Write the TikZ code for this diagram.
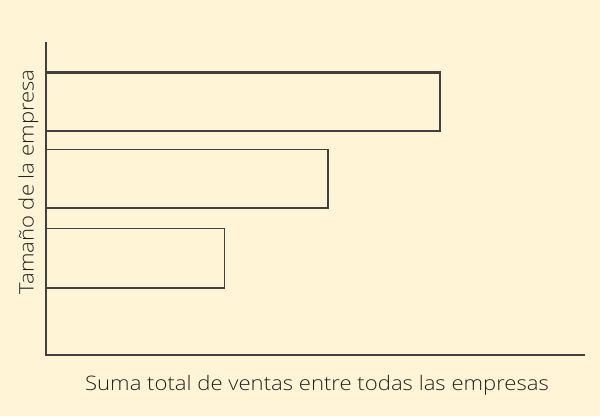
\documentclass[tikz,border=0pt]{standalone}
\usepackage{fontspec}
\setmainfont{Open Sans Light}[FakeStretch=1.105]
\definecolor{bg}{HTML}{FFF5D6}
\definecolor{ink}{HTML}{404040}
\definecolor{txt}{HTML}{222222}
\begin{document}
\begin{tikzpicture}[x=1pt,y=-1pt,
  axisline/.style={draw=ink,line width=2pt},
  barbox/.style={draw=ink},
  lbl/.style={text=txt,font=\fontsize{20}{24}\selectfont,inner sep=0pt}]
\fill[bg] (0,0) rectangle (600,416);
\useasboundingbox (0,0) rectangle (600,416);
% bars
\draw[barbox,line width=2.2pt] (46,72.5) rectangle (440,131);
\draw[barbox,line width=1.8pt] (46,149.5) rectangle (328,208);
\draw[barbox,line width=1.3pt] (46,228.5) rectangle (224.5,288);
% axes
\coordinate (top) at (46,42);
\coordinate (origin) at (46,355);
\coordinate (right) at (585,355);
\draw[axisline] (top) -- (origin) -- (right);
% labels
\node[lbl,anchor=base] (xl) at (317,390) {Suma total de ventas entre todas las empresas};
\node[lbl,anchor=base,rotate=90] (yl) at (33.5,182) {Tamaño de la empresa};
\end{tikzpicture}
\end{document}
